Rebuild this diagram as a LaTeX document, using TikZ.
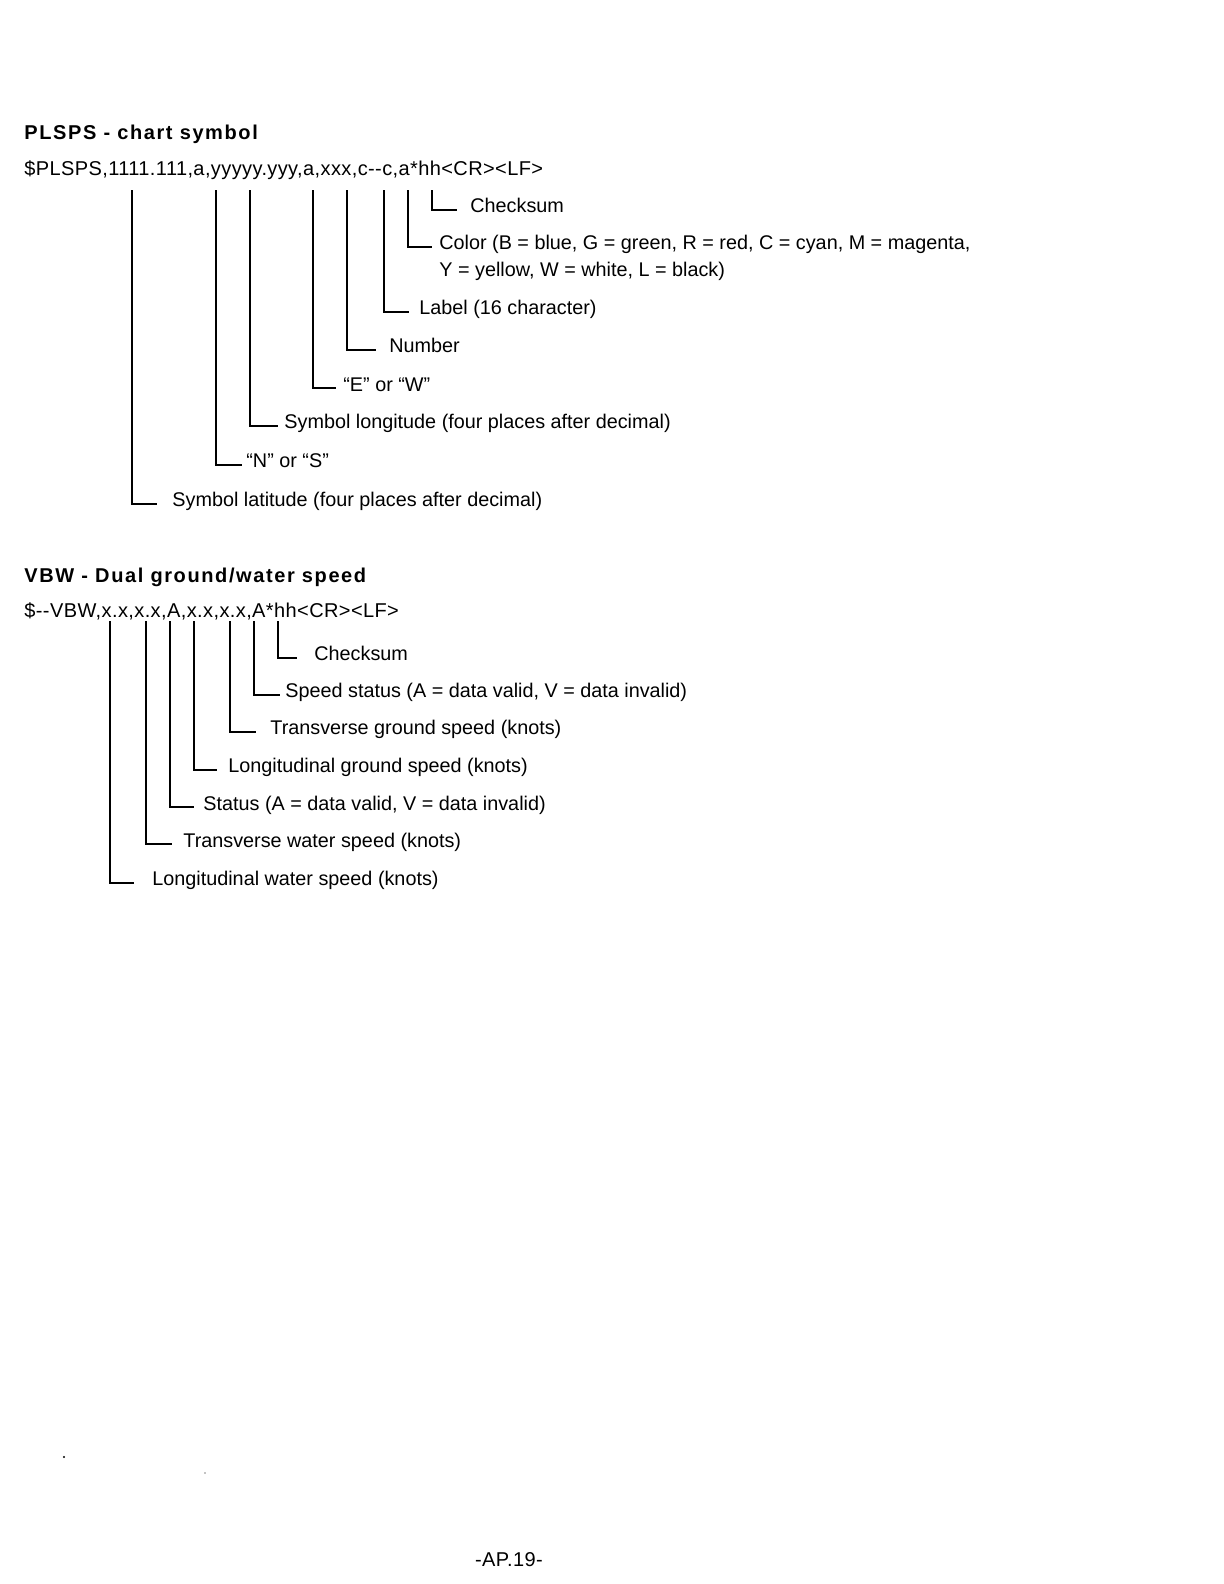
\documentclass[tikz,border=0pt]{standalone}
\usepackage{fontspec}
\setmainfont{Liberation Sans}
\usepackage{tikz}
\usetikzlibrary{positioning}

\begin{document}
\begin{tikzpicture}[x=0.5pt, y=-0.5pt,
        heading/.style={anchor=base west, inner sep=0pt, font=\fontsize{10}{12}\selectfont\bfseries\addfontfeature{LetterSpace=8}},
        sentence/.style={anchor=base west, inner sep=0pt, font=\fontsize{10}{12}\selectfont\addfontfeature{LetterSpace=2}},
        field/.style={anchor=base west, inner sep=0pt, font=\fontsize{9.9}{12}\selectfont},
        lead/.style={line width=0.9pt}
    ]
        \useasboundingbox (0,0) rectangle (1224,1584);

        \node[heading] (plspsT) at (24,140) {PLSPS - chart symbol};
        \node[sentence] (plspsS) at (24,175) {\$PLSPS,1111.111,a,yyyyy.yyy,a,xxx,c-{}-c,a*hh<CR><LF>};

        \node[field] (pCks) at (470,212) {Checksum};
        \node[field] (pCol) at (439,249) {Color (B = blue, G = green, R = red, C = cyan, M = magenta,};
        \node[field] (pCol2) at (439,276) {Y = yellow, W = white, L = black)};
        \node[field] (pLab) at (419,314) {Label (16 character)};
        \node[field] (pNum) at (389,352) {Number};
        \node[field] (pEW) at (343,391) {“E” or “W”};
        \node[field] (pLon) at (284,428) {Symbol longitude (four places after decimal)};
        \node[field] (pNS) at (246,467) {“N” or “S”};
        \node[field] (pLat) at (172,506) {Symbol latitude (four places after decimal)};

        \coordinate (p1) at (132,190);
        \coordinate (p2) at (216,190);
        \coordinate (p3) at (250,190);
        \coordinate (p4) at (313,190);
        \coordinate (p5) at (347,190);
        \coordinate (p6) at (384,190);
        \coordinate (p7) at (408,190);
        \coordinate (p8) at (432,190);

        \draw[lead] (p8) |- ([xshift=-6.5pt, yshift=1pt]pCks.base west);
        \draw[lead] (p7) |- ([xshift=-3.5pt, yshift=1pt]pCol.base west);
        \draw[lead] (p6) |- ([xshift=-5pt, yshift=1pt]pLab.base west);
        \draw[lead] (p5) |- ([xshift=-6.5pt, yshift=1pt]pNum.base west);
        \draw[lead] (p4) |- ([xshift=-3.5pt, yshift=1.5pt]pEW.base west);
        \draw[lead] (p3) |- ([xshift=-3pt, yshift=1pt]pLon.base west);
        \draw[lead] (p2) |- ([xshift=-2pt, yshift=1pt]pNS.base west);
        \draw[lead] (p1) |- ([xshift=-7.5pt, yshift=1pt]pLat.base west);

        \node[heading] (vbwT) at (24,582) {VBW - Dual ground/water speed};
        \node[sentence] (vbwS) at (24,617) {\$-{}-VBW,x.x,x.x,A,x.x,x.x,A*hh<CR><LF>};

        \node[field] (vCks) at (314,660) {Checksum};
        \node[field] (vSst) at (285,697) {Speed status (A = data valid, V = data invalid)};
        \node[field] (vTgs) at (270,734) {Transverse ground speed (knots)};
        \node[field] (vLgs) at (228,772) {Longitudinal ground speed (knots)};
        \node[field] (vSta) at (203,810) {Status (A = data valid, V = data invalid)};
        \node[field] (vTws) at (183,847) {Transverse water speed (knots)};
        \node[field] (vLws) at (152,885) {Longitudinal water speed (knots)};

        \coordinate (v1) at (110,621);
        \coordinate (v2) at (146,621);
        \coordinate (v3) at (170,621);
        \coordinate (v4) at (194,621);
        \coordinate (v5) at (230,621);
        \coordinate (v6) at (254,621);
        \coordinate (v7) at (278,621);

        \draw[lead] (v7) |- ([xshift=-8.5pt, yshift=1pt]vCks.base west);
        \draw[lead] (v6) |- ([xshift=-2.5pt, yshift=1pt]vSst.base west);
        \draw[lead] (v5) |- ([xshift=-7pt, yshift=1pt]vTgs.base west);
        \draw[lead] (v4) |- ([xshift=-5.5pt, yshift=1pt]vLgs.base west);
        \draw[lead] (v3) |- ([xshift=-4.5pt, yshift=1.5pt]vSta.base west);
        \draw[lead] (v2) |- ([xshift=-5.5pt, yshift=1.5pt]vTws.base west);
        \draw[lead] (v1) |- ([xshift=-9pt, yshift=1pt]vLws.base west);

        \fill (64,1457) circle (1.2);
        \fill (205,1473) circle (0.6);
        \node[sentence, anchor=base] (page) at (509,1566) {-AP.19-};

    \end{tikzpicture}
\end{document}
